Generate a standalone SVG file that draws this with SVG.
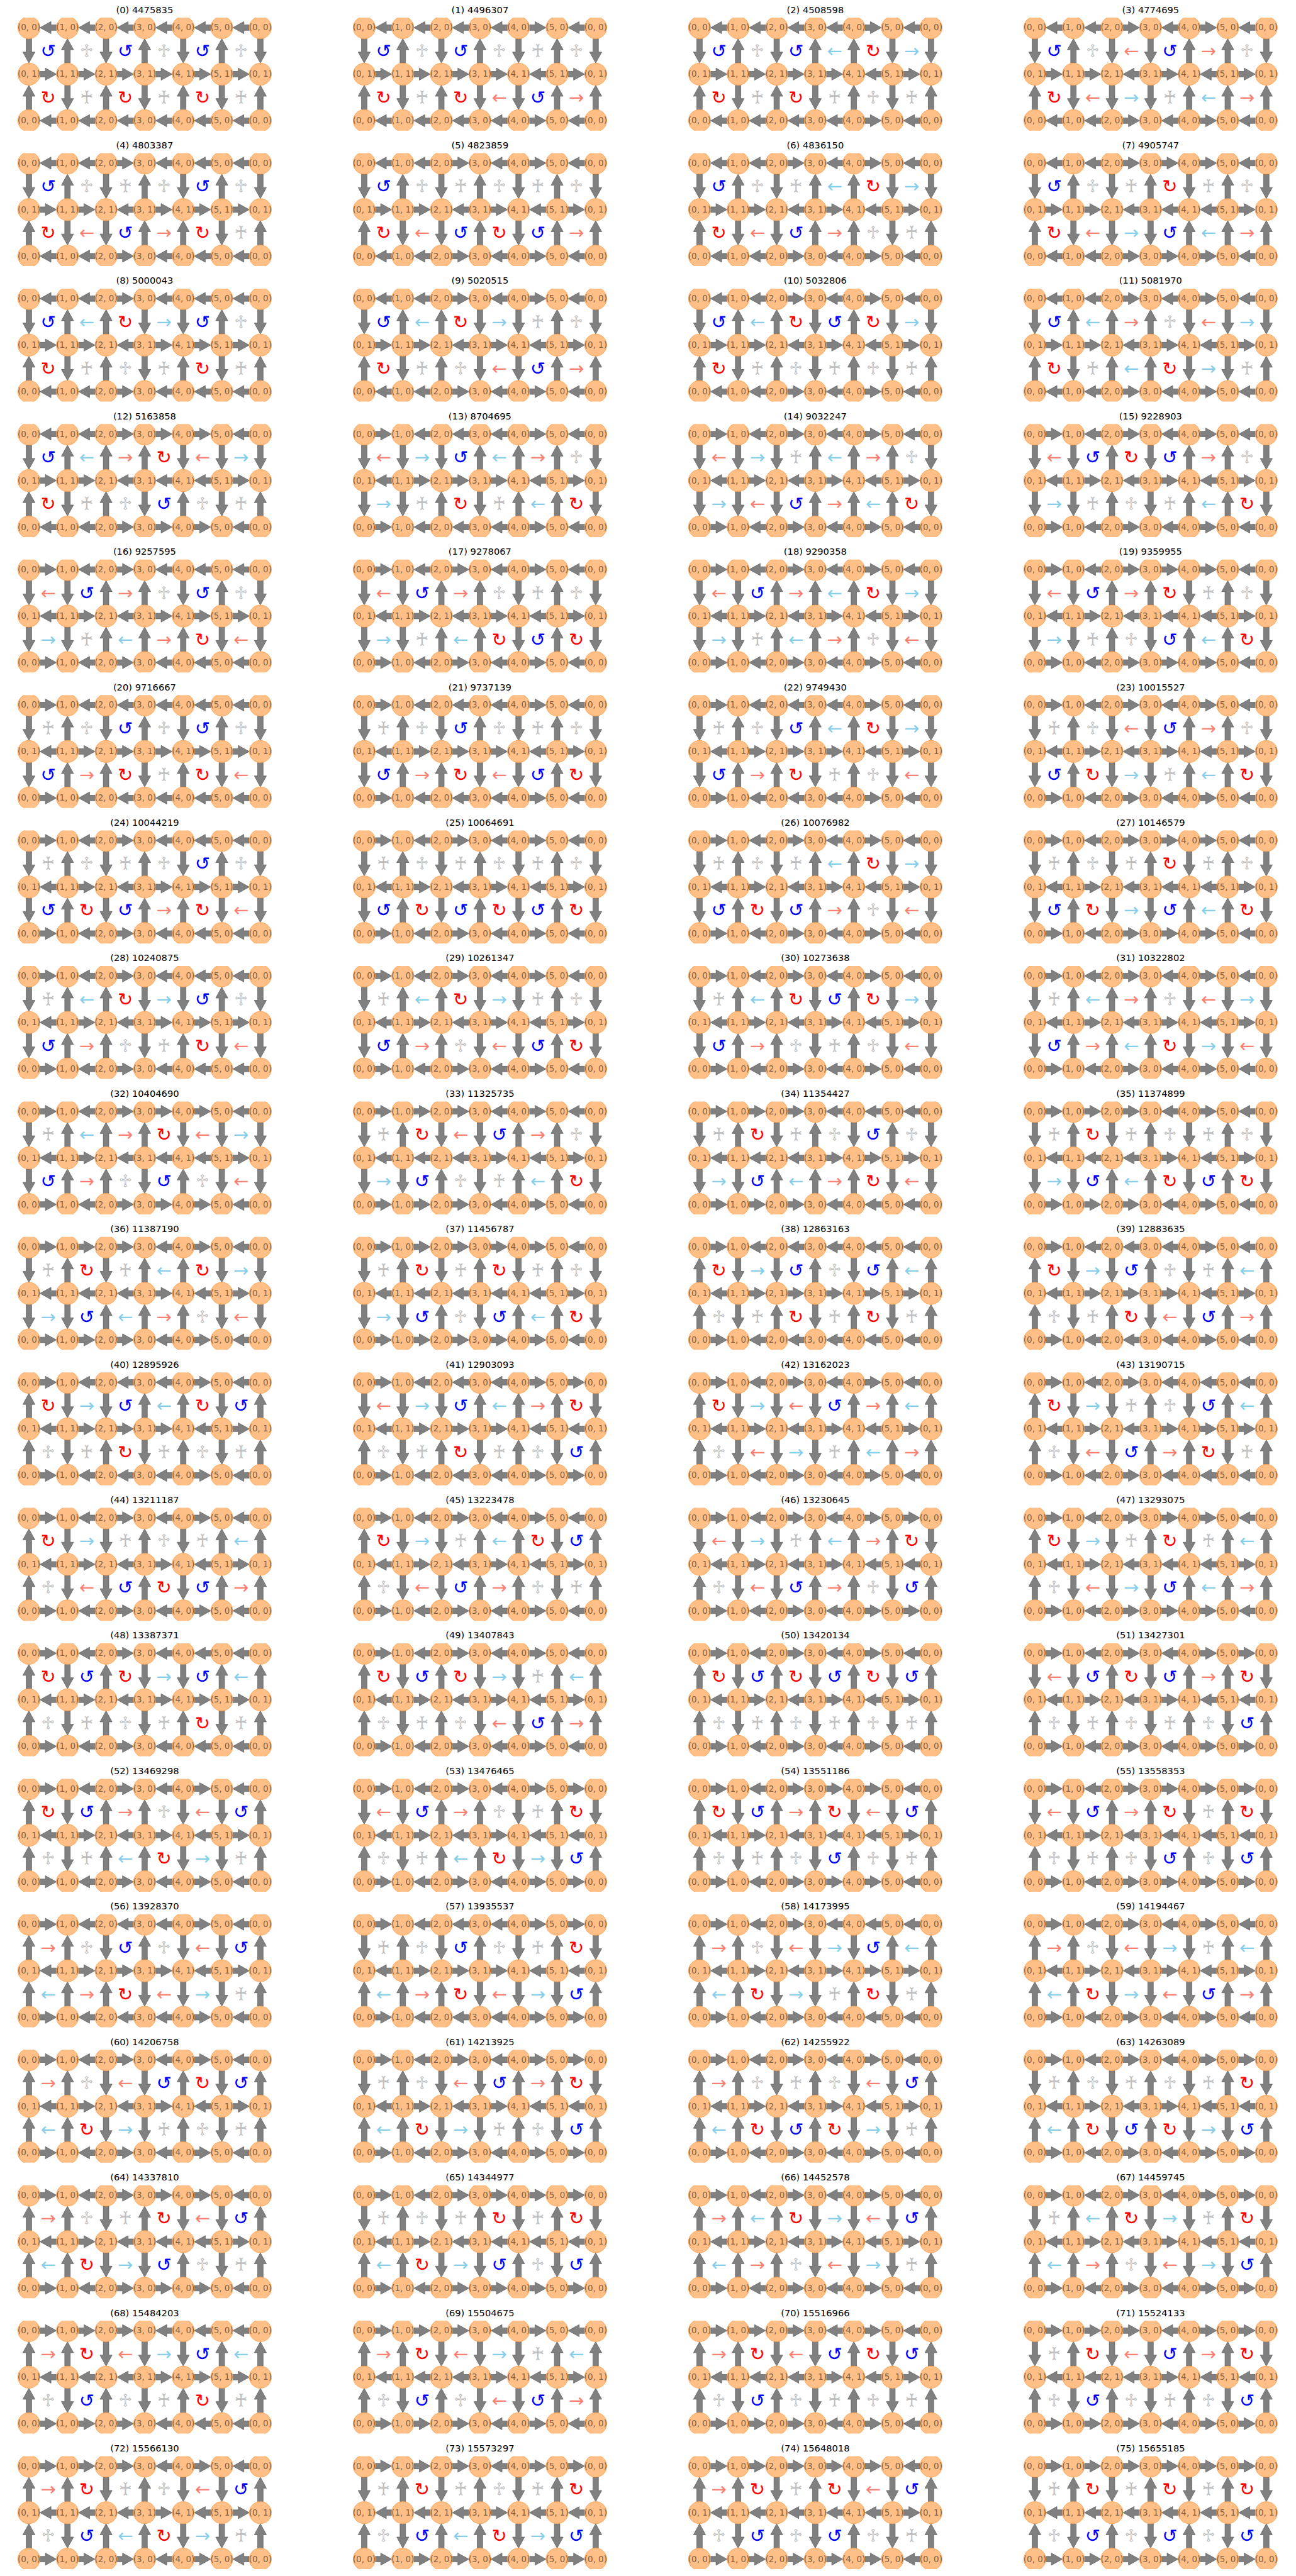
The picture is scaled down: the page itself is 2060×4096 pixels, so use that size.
<svg xmlns="http://www.w3.org/2000/svg" width="2060" height="4096" viewBox="0 0 2060 4096">
<style>
.t{font:16.7px "DejaVu Sans",sans-serif;text-anchor:middle;fill:#000}
.nd circle{fill:#ffbf86;stroke:#ff9f4a;stroke-width:1}
.nd text{font:15.3px "DejaVu Sans",sans-serif;fill:#805f43;text-anchor:middle;dominant-baseline:central}
.ar{fill:#808080;stroke:#5a5a5a;stroke-width:0.8}
.s{font:33px "DejaVu Sans",sans-serif;text-anchor:middle;dominant-baseline:central}
.A{fill:#0000ff}.C{fill:#ff0000}.O,.P{fill:#c0c0c0}.B{fill:#87ceeb}.S{fill:#fa8072}
</style>
<defs>
<clipPath id="c"><rect x="-40" y="-18" width="500" height="204.4"/></clipPath>
<path id="l" class="ar" d="M20,0L40,-11V-5H49.8V5H40V11Z"/>
<path id="r" class="ar" d="M49.8,0L29.8,-11V-5H20V5H29.8V11Z"/>
<path id="d" class="ar" d="M0,64.2L-11,44.2H-5V20H5V44.2H11Z"/>
<path id="u" class="ar" d="M0,20L-11,40H-5V64.2H5V40H11Z"/>
<use id="L0" href="#l"/><use id="L1" href="#l" x="69.8"/><use id="L2" href="#l" x="139.6"/><use id="L3" href="#l" x="209.4"/><use id="L4" href="#l" x="279.2"/><use id="L5" href="#l" x="349"/>
<use id="R0" href="#r"/><use id="R1" href="#r" x="69.8"/><use id="R2" href="#r" x="139.6"/><use id="R3" href="#r" x="209.4"/><use id="R4" href="#r" x="279.2"/><use id="R5" href="#r" x="349"/>
<use id="D0" href="#d"/><use id="D1" href="#d" x="69.8"/><use id="D2" href="#d" x="139.6"/><use id="D3" href="#d" x="209.4"/><use id="D4" href="#d" x="279.2"/><use id="D5" href="#d" x="349"/><use id="D6" href="#d" x="418.8"/>
<use id="U0" href="#u"/><use id="U1" href="#u" x="69.8"/><use id="U2" href="#u" x="139.6"/><use id="U3" href="#u" x="209.4"/><use id="U4" href="#u" x="279.2"/><use id="U5" href="#u" x="349"/><use id="U6" href="#u" x="418.8"/>
<g id="hLLLLLL"><use href="#L0"/><use href="#L1"/><use href="#L2"/><use href="#L3"/><use href="#L4"/><use href="#L5"/></g>
<g id="hLLLLRL"><use href="#L0"/><use href="#L1"/><use href="#L2"/><use href="#L3"/><use href="#R4"/><use href="#L5"/></g>
<g id="hLLRLRL"><use href="#L0"/><use href="#L1"/><use href="#R2"/><use href="#L3"/><use href="#R4"/><use href="#L5"/></g>
<g id="hLLRLLL"><use href="#L0"/><use href="#L1"/><use href="#R2"/><use href="#L3"/><use href="#L4"/><use href="#L5"/></g>
<g id="hLLRRRL"><use href="#L0"/><use href="#L1"/><use href="#R2"/><use href="#R3"/><use href="#R4"/><use href="#L5"/></g>
<g id="hRLLLRL"><use href="#R0"/><use href="#L1"/><use href="#L2"/><use href="#L3"/><use href="#R4"/><use href="#L5"/></g>
<g id="hRLRLRL"><use href="#R0"/><use href="#L1"/><use href="#R2"/><use href="#L3"/><use href="#R4"/><use href="#L5"/></g>
<g id="hRLRLLL"><use href="#R0"/><use href="#L1"/><use href="#R2"/><use href="#L3"/><use href="#L4"/><use href="#L5"/></g>
<g id="hRLRRRL"><use href="#R0"/><use href="#L1"/><use href="#R2"/><use href="#R3"/><use href="#R4"/><use href="#L5"/></g>
<g id="hRLLLLL"><use href="#R0"/><use href="#L1"/><use href="#L2"/><use href="#L3"/><use href="#L4"/><use href="#L5"/></g>
<g id="hRRRLRL"><use href="#R0"/><use href="#R1"/><use href="#R2"/><use href="#L3"/><use href="#R4"/><use href="#L5"/></g>
<g id="hRRRLLL"><use href="#R0"/><use href="#R1"/><use href="#R2"/><use href="#L3"/><use href="#L4"/><use href="#L5"/></g>
<g id="hRRRRRL"><use href="#R0"/><use href="#R1"/><use href="#R2"/><use href="#R3"/><use href="#R4"/><use href="#L5"/></g>
<g id="hRLLLRR"><use href="#R0"/><use href="#L1"/><use href="#L2"/><use href="#L3"/><use href="#R4"/><use href="#R5"/></g>
<g id="hRLRLRR"><use href="#R0"/><use href="#L1"/><use href="#R2"/><use href="#L3"/><use href="#R4"/><use href="#R5"/></g>
<g id="hRLRRRR"><use href="#R0"/><use href="#L1"/><use href="#R2"/><use href="#R3"/><use href="#R4"/><use href="#R5"/></g>
<g id="hRRRLRR"><use href="#R0"/><use href="#R1"/><use href="#R2"/><use href="#L3"/><use href="#R4"/><use href="#R5"/></g>
<g id="hRRRRRR"><use href="#R0"/><use href="#R1"/><use href="#R2"/><use href="#R3"/><use href="#R4"/><use href="#R5"/></g>
<g id="hRRRRLR"><use href="#R0"/><use href="#R1"/><use href="#R2"/><use href="#R3"/><use href="#L4"/><use href="#R5"/></g>
<g id="hRRLRLR"><use href="#R0"/><use href="#R1"/><use href="#L2"/><use href="#R3"/><use href="#L4"/><use href="#R5"/></g>
<g id="hRRLRRR"><use href="#R0"/><use href="#R1"/><use href="#L2"/><use href="#R3"/><use href="#R4"/><use href="#R5"/></g>
<g id="hRRLLLR"><use href="#R0"/><use href="#R1"/><use href="#L2"/><use href="#L3"/><use href="#L4"/><use href="#R5"/></g>
<g id="hLRRRLR"><use href="#L0"/><use href="#R1"/><use href="#R2"/><use href="#R3"/><use href="#L4"/><use href="#R5"/></g>
<g id="hLRLRLR"><use href="#L0"/><use href="#R1"/><use href="#L2"/><use href="#R3"/><use href="#L4"/><use href="#R5"/></g>
<g id="hLRLRRR"><use href="#L0"/><use href="#R1"/><use href="#L2"/><use href="#R3"/><use href="#R4"/><use href="#R5"/></g>
<g id="hLRLLLR"><use href="#L0"/><use href="#R1"/><use href="#L2"/><use href="#L3"/><use href="#L4"/><use href="#R5"/></g>
<g id="hLRRRRR"><use href="#L0"/><use href="#R1"/><use href="#R2"/><use href="#R3"/><use href="#R4"/><use href="#R5"/></g>
<g id="hLLLRLR"><use href="#L0"/><use href="#L1"/><use href="#L2"/><use href="#R3"/><use href="#L4"/><use href="#R5"/></g>
<g id="hLLLRRR"><use href="#L0"/><use href="#L1"/><use href="#L2"/><use href="#R3"/><use href="#R4"/><use href="#R5"/></g>
<g id="hLLLLLR"><use href="#L0"/><use href="#L1"/><use href="#L2"/><use href="#L3"/><use href="#L4"/><use href="#R5"/></g>
<g id="hLRRRLL"><use href="#L0"/><use href="#R1"/><use href="#R2"/><use href="#R3"/><use href="#L4"/><use href="#L5"/></g>
<g id="hLRLRLL"><use href="#L0"/><use href="#R1"/><use href="#L2"/><use href="#R3"/><use href="#L4"/><use href="#L5"/></g>
<g id="hLRLLLL"><use href="#L0"/><use href="#R1"/><use href="#L2"/><use href="#L3"/><use href="#L4"/><use href="#L5"/></g>
<g id="hLLLRLL"><use href="#L0"/><use href="#L1"/><use href="#L2"/><use href="#R3"/><use href="#L4"/><use href="#L5"/></g>
<g id="vDUDUDU"><use href="#D0"/><use href="#U1"/><use href="#D2"/><use href="#U3"/><use href="#D4"/><use href="#U5"/><use href="#D6"/></g>
<g id="vDUDUUD"><use href="#D0"/><use href="#U1"/><use href="#D2"/><use href="#U3"/><use href="#U4"/><use href="#D5"/><use href="#D6"/></g>
<g id="vDUDDUU"><use href="#D0"/><use href="#U1"/><use href="#D2"/><use href="#D3"/><use href="#U4"/><use href="#U5"/><use href="#D6"/></g>
<g id="vDUUDDU"><use href="#D0"/><use href="#U1"/><use href="#U2"/><use href="#D3"/><use href="#D4"/><use href="#U5"/><use href="#D6"/></g>
<g id="vDUUDUD"><use href="#D0"/><use href="#U1"/><use href="#U2"/><use href="#D3"/><use href="#U4"/><use href="#D5"/><use href="#D6"/></g>
<g id="vDUUUDD"><use href="#D0"/><use href="#U1"/><use href="#U2"/><use href="#U3"/><use href="#D4"/><use href="#D5"/><use href="#D6"/></g>
<g id="vDDDUUU"><use href="#D0"/><use href="#D1"/><use href="#D2"/><use href="#U3"/><use href="#U4"/><use href="#U5"/><use href="#D6"/></g>
<g id="vDDUDUU"><use href="#D0"/><use href="#D1"/><use href="#U2"/><use href="#D3"/><use href="#U4"/><use href="#U5"/><use href="#D6"/></g>
<g id="vDDUUDU"><use href="#D0"/><use href="#D1"/><use href="#U2"/><use href="#U3"/><use href="#D4"/><use href="#U5"/><use href="#D6"/></g>
<g id="vDDUUUD"><use href="#D0"/><use href="#D1"/><use href="#U2"/><use href="#U3"/><use href="#U4"/><use href="#D5"/><use href="#D6"/></g>
<g id="vUDDUDU"><use href="#U0"/><use href="#D1"/><use href="#D2"/><use href="#U3"/><use href="#D4"/><use href="#U5"/><use href="#U6"/></g>
<g id="vUDDUUD"><use href="#U0"/><use href="#D1"/><use href="#D2"/><use href="#U3"/><use href="#U4"/><use href="#D5"/><use href="#U6"/></g>
<g id="vUDDDUU"><use href="#U0"/><use href="#D1"/><use href="#D2"/><use href="#D3"/><use href="#U4"/><use href="#U5"/><use href="#U6"/></g>
<g id="vUDUDDU"><use href="#U0"/><use href="#D1"/><use href="#U2"/><use href="#D3"/><use href="#D4"/><use href="#U5"/><use href="#U6"/></g>
<g id="vUDUDUD"><use href="#U0"/><use href="#D1"/><use href="#U2"/><use href="#D3"/><use href="#U4"/><use href="#D5"/><use href="#U6"/></g>
<g id="vUDUUDD"><use href="#U0"/><use href="#D1"/><use href="#U2"/><use href="#U3"/><use href="#D4"/><use href="#D5"/><use href="#U6"/></g>
<g id="vUUDUDD"><use href="#U0"/><use href="#U1"/><use href="#D2"/><use href="#U3"/><use href="#D4"/><use href="#D5"/><use href="#U6"/></g>
<g id="vUUDDDU"><use href="#U0"/><use href="#U1"/><use href="#D2"/><use href="#D3"/><use href="#D4"/><use href="#U5"/><use href="#U6"/></g>
<g id="vUUDDUD"><use href="#U0"/><use href="#U1"/><use href="#D2"/><use href="#D3"/><use href="#U4"/><use href="#D5"/><use href="#U6"/></g>
<g id="vUUUDDD"><use href="#U0"/><use href="#U1"/><use href="#U2"/><use href="#D3"/><use href="#D4"/><use href="#D5"/><use href="#U6"/></g>
<g id="r0" class="nd"><g id="n0"><circle r="20"/><text>(0, 0)</text></g><g id="n1"><circle cx="69.8" r="20"/><text x="69.8">(1, 0)</text></g><g id="n2"><circle cx="139.6" r="20"/><text x="139.6">(2, 0)</text></g><g id="n3"><circle cx="209.4" r="20"/><text x="209.4">(3, 0)</text></g><g id="n4"><circle cx="279.2" r="20"/><text x="279.2">(4, 0)</text></g><g id="n5"><circle cx="349" r="20"/><text x="349">(5, 0)</text></g><g id="n6"><circle cx="418.8" r="20"/><text x="418.8">(0, 0)</text></g></g>
<g id="r1" class="nd"><g id="m0"><circle r="20"/><text>(0, 1)</text></g><g id="m1"><circle cx="69.8" r="20"/><text x="69.8">(1, 1)</text></g><g id="m2"><circle cx="139.6" r="20"/><text x="139.6">(2, 1)</text></g><g id="m3"><circle cx="209.4" r="20"/><text x="209.4">(3, 1)</text></g><g id="m4"><circle cx="279.2" r="20"/><text x="279.2">(4, 1)</text></g><g id="m5"><circle cx="349" r="20"/><text x="349">(5, 1)</text></g><g id="m6"><circle cx="418.8" r="20"/><text x="418.8">(0, 1)</text></g></g>
<g id="N"><use href="#r0"/><use href="#r1" y="84.2"/><use href="#r0" y="168.4"/></g>
<text id="A0" class="s A" x="34.9" y="42.1">↺</text><text id="A1" class="s A" x="104.7" y="42.1">↺</text><text id="A2" class="s A" x="174.5" y="42.1">↺</text><text id="A3" class="s A" x="244.3" y="42.1">↺</text><text id="A4" class="s A" x="314.1" y="42.1">↺</text><text id="A5" class="s A" x="383.9" y="42.1">↺</text>
<text id="C0" class="s C" x="34.9" y="42.1">↻</text><text id="C1" class="s C" x="104.7" y="42.1">↻</text><text id="C2" class="s C" x="174.5" y="42.1">↻</text><text id="C3" class="s C" x="244.3" y="42.1">↻</text><text id="C4" class="s C" x="314.1" y="42.1">↻</text><text id="C5" class="s C" x="383.9" y="42.1">↻</text>
<text id="O0" class="s O" x="34.9" y="42.1">♱</text><text id="O1" class="s O" x="104.7" y="42.1">♱</text><text id="O2" class="s O" x="174.5" y="42.1">♱</text><text id="O3" class="s O" x="244.3" y="42.1">♱</text><text id="O4" class="s O" x="314.1" y="42.1">♱</text><text id="O5" class="s O" x="383.9" y="42.1">♱</text>
<text id="P0" class="s P" x="34.9" y="42.1">♰</text><text id="P1" class="s P" x="104.7" y="42.1">♰</text><text id="P2" class="s P" x="174.5" y="42.1">♰</text><text id="P3" class="s P" x="244.3" y="42.1">♰</text><text id="P4" class="s P" x="314.1" y="42.1">♰</text><text id="P5" class="s P" x="383.9" y="42.1">♰</text>
<text id="bl0" class="s B" x="34.9" y="42.1">←</text><text id="bl1" class="s B" x="104.7" y="42.1">←</text><text id="bl2" class="s B" x="174.5" y="42.1">←</text><text id="bl3" class="s B" x="244.3" y="42.1">←</text><text id="bl4" class="s B" x="314.1" y="42.1">←</text><text id="bl5" class="s B" x="383.9" y="42.1">←</text>
<text id="br0" class="s B" x="34.9" y="42.1">→</text><text id="br1" class="s B" x="104.7" y="42.1">→</text><text id="br2" class="s B" x="174.5" y="42.1">→</text><text id="br3" class="s B" x="244.3" y="42.1">→</text><text id="br4" class="s B" x="314.1" y="42.1">→</text><text id="br5" class="s B" x="383.9" y="42.1">→</text>
<text id="sl0" class="s S" x="34.9" y="42.1">←</text><text id="sl1" class="s S" x="104.7" y="42.1">←</text><text id="sl2" class="s S" x="174.5" y="42.1">←</text><text id="sl3" class="s S" x="244.3" y="42.1">←</text><text id="sl4" class="s S" x="314.1" y="42.1">←</text><text id="sl5" class="s S" x="383.9" y="42.1">←</text>
<text id="sr0" class="s S" x="34.9" y="42.1">→</text><text id="sr1" class="s S" x="104.7" y="42.1">→</text><text id="sr2" class="s S" x="174.5" y="42.1">→</text><text id="sr3" class="s S" x="244.3" y="42.1">→</text><text id="sr4" class="s S" x="314.1" y="42.1">→</text><text id="sr5" class="s S" x="383.9" y="42.1">→</text>
</defs>
<rect width="2060" height="4096" fill="#fff"/>
<g transform="scale(0.8785)">
<g id="p0" transform="translate(52.3,50)"><g clip-path="url(#c)"><g><use href="#hLLLLLL"/><use href="#hRRRRRR" y="84.2"/><use href="#hLLLLLL" y="168.4"/><use href="#vDUDUDU"/><use href="#vUDUDUD" y="84.2"/></g><use href="#N"/></g><use href="#A0"/><use href="#O1"/><use href="#A2"/><use href="#O3"/><use href="#A4"/><use href="#O5"/><g transform="translate(0,84.2)"><use href="#C0"/><use href="#P1"/><use href="#C2"/><use href="#P3"/><use href="#C4"/><use href="#P5"/></g><text class="t" x="209.4" y="-26.6">(0) 4475835</text></g>
<g id="p1" transform="translate(659,50)"><g clip-path="url(#c)"><g><use href="#hLLLLRL"/><use href="#hRRRRLR" y="84.2"/><use href="#hLLLLRL" y="168.4"/><use href="#vDUDUDU"/><use href="#vUDUDDU" y="84.2"/></g><use href="#N"/></g><use href="#A0"/><use href="#O1"/><use href="#A2"/><use href="#O3"/><use href="#P4"/><use href="#O5"/><g transform="translate(0,84.2)"><use href="#C0"/><use href="#P1"/><use href="#C2"/><use href="#sl3"/><use href="#A4"/><use href="#sr5"/></g><text class="t" x="209.4" y="-26.6">(1) 4496307</text></g>
<g id="p2" transform="translate(1265.7,50)"><g clip-path="url(#c)"><g><use href="#hLLLLRL"/><use href="#hRRRRLR" y="84.2"/><use href="#hLLLLRL" y="168.4"/><use href="#vDUDUUD"/><use href="#vUDUDUD" y="84.2"/></g><use href="#N"/></g><use href="#A0"/><use href="#O1"/><use href="#A2"/><use href="#bl3"/><use href="#C4"/><use href="#br5"/><g transform="translate(0,84.2)"><use href="#C0"/><use href="#P1"/><use href="#C2"/><use href="#P3"/><use href="#O4"/><use href="#P5"/></g><text class="t" x="209.4" y="-26.6">(2) 4508598</text></g>
<g id="p3" transform="translate(1872.4,50)"><g clip-path="url(#c)"><g><use href="#hLLRLRL"/><use href="#hRRLRLR" y="84.2"/><use href="#hLLRLRL" y="168.4"/><use href="#vDUDDUU"/><use href="#vUDDDUU" y="84.2"/></g><use href="#N"/></g><use href="#A0"/><use href="#O1"/><use href="#sl2"/><use href="#A3"/><use href="#sr4"/><use href="#O5"/><g transform="translate(0,84.2)"><use href="#C0"/><use href="#sl1"/><use href="#br2"/><use href="#P3"/><use href="#bl4"/><use href="#sr5"/></g><text class="t" x="209.4" y="-26.6">(3) 4774695</text></g>
<g id="p4" transform="translate(52.3,295.2)"><g clip-path="url(#c)"><g><use href="#hLLRLLL"/><use href="#hRRLRRR" y="84.2"/><use href="#hLLRLLL" y="168.4"/><use href="#vDUDUDU"/><use href="#vUDDUUD" y="84.2"/></g><use href="#N"/></g><use href="#A0"/><use href="#O1"/><use href="#P2"/><use href="#O3"/><use href="#A4"/><use href="#O5"/><g transform="translate(0,84.2)"><use href="#C0"/><use href="#sl1"/><use href="#A2"/><use href="#sr3"/><use href="#C4"/><use href="#P5"/></g><text class="t" x="209.4" y="-26.6">(4) 4803387</text></g>
<g id="p5" transform="translate(659,295.2)"><g clip-path="url(#c)"><g><use href="#hLLRLRL"/><use href="#hRRLRLR" y="84.2"/><use href="#hLLRLRL" y="168.4"/><use href="#vDUDUDU"/><use href="#vUDDUDU" y="84.2"/></g><use href="#N"/></g><use href="#A0"/><use href="#O1"/><use href="#P2"/><use href="#O3"/><use href="#P4"/><use href="#O5"/><g transform="translate(0,84.2)"><use href="#C0"/><use href="#sl1"/><use href="#A2"/><use href="#C3"/><use href="#A4"/><use href="#sr5"/></g><text class="t" x="209.4" y="-26.6">(5) 4823859</text></g>
<g id="p6" transform="translate(1265.7,295.2)"><g clip-path="url(#c)"><g><use href="#hLLRLRL"/><use href="#hRRLRLR" y="84.2"/><use href="#hLLRLRL" y="168.4"/><use href="#vDUDUUD"/><use href="#vUDDUUD" y="84.2"/></g><use href="#N"/></g><use href="#A0"/><use href="#O1"/><use href="#P2"/><use href="#bl3"/><use href="#C4"/><use href="#br5"/><g transform="translate(0,84.2)"><use href="#C0"/><use href="#sl1"/><use href="#A2"/><use href="#sr3"/><use href="#O4"/><use href="#P5"/></g><text class="t" x="209.4" y="-26.6">(6) 4836150</text></g>
<g id="p7" transform="translate(1872.4,295.2)"><g clip-path="url(#c)"><g><use href="#hLLRRRL"/><use href="#hRRLLLR" y="84.2"/><use href="#hLLRRRL" y="168.4"/><use href="#vDUDUDU"/><use href="#vUDDDUU" y="84.2"/></g><use href="#N"/></g><use href="#A0"/><use href="#O1"/><use href="#P2"/><use href="#C3"/><use href="#P4"/><use href="#O5"/><g transform="translate(0,84.2)"><use href="#C0"/><use href="#sl1"/><use href="#br2"/><use href="#A3"/><use href="#bl4"/><use href="#sr5"/></g><text class="t" x="209.4" y="-26.6">(7) 4905747</text></g>
<g id="p8" transform="translate(52.3,540.4)"><g clip-path="url(#c)"><g><use href="#hLLRLLL"/><use href="#hRRLRRR" y="84.2"/><use href="#hLLRLLL" y="168.4"/><use href="#vDUUDDU"/><use href="#vUDUDUD" y="84.2"/></g><use href="#N"/></g><use href="#A0"/><use href="#bl1"/><use href="#C2"/><use href="#br3"/><use href="#A4"/><use href="#O5"/><g transform="translate(0,84.2)"><use href="#C0"/><use href="#P1"/><use href="#O2"/><use href="#P3"/><use href="#C4"/><use href="#P5"/></g><text class="t" x="209.4" y="-26.6">(8) 5000043</text></g>
<g id="p9" transform="translate(659,540.4)"><g clip-path="url(#c)"><g><use href="#hLLRLRL"/><use href="#hRRLRLR" y="84.2"/><use href="#hLLRLRL" y="168.4"/><use href="#vDUUDDU"/><use href="#vUDUDDU" y="84.2"/></g><use href="#N"/></g><use href="#A0"/><use href="#bl1"/><use href="#C2"/><use href="#br3"/><use href="#P4"/><use href="#O5"/><g transform="translate(0,84.2)"><use href="#C0"/><use href="#P1"/><use href="#O2"/><use href="#sl3"/><use href="#A4"/><use href="#sr5"/></g><text class="t" x="209.4" y="-26.6">(9) 5020515</text></g>
<g id="p10" transform="translate(1265.7,540.4)"><g clip-path="url(#c)"><g><use href="#hLLRLRL"/><use href="#hRRLRLR" y="84.2"/><use href="#hLLRLRL" y="168.4"/><use href="#vDUUDUD"/><use href="#vUDUDUD" y="84.2"/></g><use href="#N"/></g><use href="#A0"/><use href="#bl1"/><use href="#C2"/><use href="#A3"/><use href="#C4"/><use href="#br5"/><g transform="translate(0,84.2)"><use href="#C0"/><use href="#P1"/><use href="#O2"/><use href="#P3"/><use href="#O4"/><use href="#P5"/></g><text class="t" x="209.4" y="-26.6">(10) 5032806</text></g>
<g id="p11" transform="translate(1872.4,540.4)"><g clip-path="url(#c)"><g><use href="#hLLRLRL"/><use href="#hRRLRLR" y="84.2"/><use href="#hLLRLRL" y="168.4"/><use href="#vDUUUDD"/><use href="#vUDUUDD" y="84.2"/></g><use href="#N"/></g><use href="#A0"/><use href="#bl1"/><use href="#sr2"/><use href="#O3"/><use href="#sl4"/><use href="#br5"/><g transform="translate(0,84.2)"><use href="#C0"/><use href="#P1"/><use href="#bl2"/><use href="#C3"/><use href="#br4"/><use href="#P5"/></g><text class="t" x="209.4" y="-26.6">(11) 5081970</text></g>
<g id="p12" transform="translate(52.3,785.6)"><g clip-path="url(#c)"><g><use href="#hLLRRRL"/><use href="#hRRLLLR" y="84.2"/><use href="#hLLRRRL" y="168.4"/><use href="#vDUUUDD"/><use href="#vUDUDUD" y="84.2"/></g><use href="#N"/></g><use href="#A0"/><use href="#bl1"/><use href="#sr2"/><use href="#C3"/><use href="#sl4"/><use href="#br5"/><g transform="translate(0,84.2)"><use href="#C0"/><use href="#P1"/><use href="#O2"/><use href="#A3"/><use href="#O4"/><use href="#P5"/></g><text class="t" x="209.4" y="-26.6">(12) 5163858</text></g>
<g id="p13" transform="translate(659,785.6)"><g clip-path="url(#c)"><g><use href="#hRLLLRL"/><use href="#hLRRRLR" y="84.2"/><use href="#hRLLLRL" y="168.4"/><use href="#vDDDUUU"/><use href="#vDDUDUU" y="84.2"/></g><use href="#N"/></g><use href="#sl0"/><use href="#br1"/><use href="#A2"/><use href="#bl3"/><use href="#sr4"/><use href="#O5"/><g transform="translate(0,84.2)"><use href="#br0"/><use href="#P1"/><use href="#C2"/><use href="#P3"/><use href="#bl4"/><use href="#C5"/></g><text class="t" x="209.4" y="-26.6">(13) 8704695</text></g>
<g id="p14" transform="translate(1265.7,785.6)"><g clip-path="url(#c)"><g><use href="#hRLRLRL"/><use href="#hLRLRLR" y="84.2"/><use href="#hRLRLRL" y="168.4"/><use href="#vDDDUUU"/><use href="#vDDDUUU" y="84.2"/></g><use href="#N"/></g><use href="#sl0"/><use href="#br1"/><use href="#P2"/><use href="#bl3"/><use href="#sr4"/><use href="#O5"/><g transform="translate(0,84.2)"><use href="#br0"/><use href="#sl1"/><use href="#A2"/><use href="#sr3"/><use href="#bl4"/><use href="#C5"/></g><text class="t" x="209.4" y="-26.6">(14) 9032247</text></g>
<g id="p15" transform="translate(1872.4,785.6)"><g clip-path="url(#c)"><g><use href="#hRLRLRL"/><use href="#hLRLRLR" y="84.2"/><use href="#hRLRLRL" y="168.4"/><use href="#vDDUDUU"/><use href="#vDDUDUU" y="84.2"/></g><use href="#N"/></g><use href="#sl0"/><use href="#A1"/><use href="#C2"/><use href="#A3"/><use href="#sr4"/><use href="#O5"/><g transform="translate(0,84.2)"><use href="#br0"/><use href="#P1"/><use href="#O2"/><use href="#P3"/><use href="#bl4"/><use href="#C5"/></g><text class="t" x="209.4" y="-26.6">(15) 9228903</text></g>
<g id="p16" transform="translate(52.3,1030.8)"><g clip-path="url(#c)"><g><use href="#hRLRLLL"/><use href="#hLRLRRR" y="84.2"/><use href="#hRLRLLL" y="168.4"/><use href="#vDDUUDU"/><use href="#vDDUUUD" y="84.2"/></g><use href="#N"/></g><use href="#sl0"/><use href="#A1"/><use href="#sr2"/><use href="#O3"/><use href="#A4"/><use href="#O5"/><g transform="translate(0,84.2)"><use href="#br0"/><use href="#P1"/><use href="#bl2"/><use href="#sr3"/><use href="#C4"/><use href="#sl5"/></g><text class="t" x="209.4" y="-26.6">(16) 9257595</text></g>
<g id="p17" transform="translate(659,1030.8)"><g clip-path="url(#c)"><g><use href="#hRLRLRL"/><use href="#hLRLRLR" y="84.2"/><use href="#hRLRLRL" y="168.4"/><use href="#vDDUUDU"/><use href="#vDDUUDU" y="84.2"/></g><use href="#N"/></g><use href="#sl0"/><use href="#A1"/><use href="#sr2"/><use href="#O3"/><use href="#P4"/><use href="#O5"/><g transform="translate(0,84.2)"><use href="#br0"/><use href="#P1"/><use href="#bl2"/><use href="#C3"/><use href="#A4"/><use href="#C5"/></g><text class="t" x="209.4" y="-26.6">(17) 9278067</text></g>
<g id="p18" transform="translate(1265.7,1030.8)"><g clip-path="url(#c)"><g><use href="#hRLRLRL"/><use href="#hLRLRLR" y="84.2"/><use href="#hRLRLRL" y="168.4"/><use href="#vDDUUUD"/><use href="#vDDUUUD" y="84.2"/></g><use href="#N"/></g><use href="#sl0"/><use href="#A1"/><use href="#sr2"/><use href="#bl3"/><use href="#C4"/><use href="#br5"/><g transform="translate(0,84.2)"><use href="#br0"/><use href="#P1"/><use href="#bl2"/><use href="#sr3"/><use href="#O4"/><use href="#sl5"/></g><text class="t" x="209.4" y="-26.6">(18) 9290358</text></g>
<g id="p19" transform="translate(1872.4,1030.8)"><g clip-path="url(#c)"><g><use href="#hRLRRRL"/><use href="#hLRLLLR" y="84.2"/><use href="#hRLRRRL" y="168.4"/><use href="#vDDUUDU"/><use href="#vDDUDUU" y="84.2"/></g><use href="#N"/></g><use href="#sl0"/><use href="#A1"/><use href="#sr2"/><use href="#C3"/><use href="#P4"/><use href="#O5"/><g transform="translate(0,84.2)"><use href="#br0"/><use href="#P1"/><use href="#O2"/><use href="#A3"/><use href="#bl4"/><use href="#C5"/></g><text class="t" x="209.4" y="-26.6">(19) 9359955</text></g>
<g id="p20" transform="translate(52.3,1276)"><g clip-path="url(#c)"><g><use href="#hRLLLLL"/><use href="#hLRRRRR" y="84.2"/><use href="#hRLLLLL" y="168.4"/><use href="#vDUDUDU"/><use href="#vDUUDUD" y="84.2"/></g><use href="#N"/></g><use href="#P0"/><use href="#O1"/><use href="#A2"/><use href="#O3"/><use href="#A4"/><use href="#O5"/><g transform="translate(0,84.2)"><use href="#A0"/><use href="#sr1"/><use href="#C2"/><use href="#P3"/><use href="#C4"/><use href="#sl5"/></g><text class="t" x="209.4" y="-26.6">(20) 9716667</text></g>
<g id="p21" transform="translate(659,1276)"><g clip-path="url(#c)"><g><use href="#hRLLLRL"/><use href="#hLRRRLR" y="84.2"/><use href="#hRLLLRL" y="168.4"/><use href="#vDUDUDU"/><use href="#vDUUDDU" y="84.2"/></g><use href="#N"/></g><use href="#P0"/><use href="#O1"/><use href="#A2"/><use href="#O3"/><use href="#P4"/><use href="#O5"/><g transform="translate(0,84.2)"><use href="#A0"/><use href="#sr1"/><use href="#C2"/><use href="#sl3"/><use href="#A4"/><use href="#C5"/></g><text class="t" x="209.4" y="-26.6">(21) 9737139</text></g>
<g id="p22" transform="translate(1265.7,1276)"><g clip-path="url(#c)"><g><use href="#hRLLLRL"/><use href="#hLRRRLR" y="84.2"/><use href="#hRLLLRL" y="168.4"/><use href="#vDUDUUD"/><use href="#vDUUDUD" y="84.2"/></g><use href="#N"/></g><use href="#P0"/><use href="#O1"/><use href="#A2"/><use href="#bl3"/><use href="#C4"/><use href="#br5"/><g transform="translate(0,84.2)"><use href="#A0"/><use href="#sr1"/><use href="#C2"/><use href="#P3"/><use href="#O4"/><use href="#sl5"/></g><text class="t" x="209.4" y="-26.6">(22) 9749430</text></g>
<g id="p23" transform="translate(1872.4,1276)"><g clip-path="url(#c)"><g><use href="#hRLRLRL"/><use href="#hLRLRLR" y="84.2"/><use href="#hRLRLRL" y="168.4"/><use href="#vDUDDUU"/><use href="#vDUDDUU" y="84.2"/></g><use href="#N"/></g><use href="#P0"/><use href="#O1"/><use href="#sl2"/><use href="#A3"/><use href="#sr4"/><use href="#O5"/><g transform="translate(0,84.2)"><use href="#A0"/><use href="#C1"/><use href="#br2"/><use href="#P3"/><use href="#bl4"/><use href="#C5"/></g><text class="t" x="209.4" y="-26.6">(23) 10015527</text></g>
<g id="p24" transform="translate(52.3,1521.2)"><g clip-path="url(#c)"><g><use href="#hRLRLLL"/><use href="#hLRLRRR" y="84.2"/><use href="#hRLRLLL" y="168.4"/><use href="#vDUDUDU"/><use href="#vDUDUUD" y="84.2"/></g><use href="#N"/></g><use href="#P0"/><use href="#O1"/><use href="#P2"/><use href="#O3"/><use href="#A4"/><use href="#O5"/><g transform="translate(0,84.2)"><use href="#A0"/><use href="#C1"/><use href="#A2"/><use href="#sr3"/><use href="#C4"/><use href="#sl5"/></g><text class="t" x="209.4" y="-26.6">(24) 10044219</text></g>
<g id="p25" transform="translate(659,1521.2)"><g clip-path="url(#c)"><g><use href="#hRLRLRL"/><use href="#hLRLRLR" y="84.2"/><use href="#hRLRLRL" y="168.4"/><use href="#vDUDUDU"/><use href="#vDUDUDU" y="84.2"/></g><use href="#N"/></g><use href="#P0"/><use href="#O1"/><use href="#P2"/><use href="#O3"/><use href="#P4"/><use href="#O5"/><g transform="translate(0,84.2)"><use href="#A0"/><use href="#C1"/><use href="#A2"/><use href="#C3"/><use href="#A4"/><use href="#C5"/></g><text class="t" x="209.4" y="-26.6">(25) 10064691</text></g>
<g id="p26" transform="translate(1265.7,1521.2)"><g clip-path="url(#c)"><g><use href="#hRLRLRL"/><use href="#hLRLRLR" y="84.2"/><use href="#hRLRLRL" y="168.4"/><use href="#vDUDUUD"/><use href="#vDUDUUD" y="84.2"/></g><use href="#N"/></g><use href="#P0"/><use href="#O1"/><use href="#P2"/><use href="#bl3"/><use href="#C4"/><use href="#br5"/><g transform="translate(0,84.2)"><use href="#A0"/><use href="#C1"/><use href="#A2"/><use href="#sr3"/><use href="#O4"/><use href="#sl5"/></g><text class="t" x="209.4" y="-26.6">(26) 10076982</text></g>
<g id="p27" transform="translate(1872.4,1521.2)"><g clip-path="url(#c)"><g><use href="#hRLRRRL"/><use href="#hLRLLLR" y="84.2"/><use href="#hRLRRRL" y="168.4"/><use href="#vDUDUDU"/><use href="#vDUDDUU" y="84.2"/></g><use href="#N"/></g><use href="#P0"/><use href="#O1"/><use href="#P2"/><use href="#C3"/><use href="#P4"/><use href="#O5"/><g transform="translate(0,84.2)"><use href="#A0"/><use href="#C1"/><use href="#br2"/><use href="#A3"/><use href="#bl4"/><use href="#C5"/></g><text class="t" x="209.4" y="-26.6">(27) 10146579</text></g>
<g id="p28" transform="translate(52.3,1766.4)"><g clip-path="url(#c)"><g><use href="#hRLRLLL"/><use href="#hLRLRRR" y="84.2"/><use href="#hRLRLLL" y="168.4"/><use href="#vDUUDDU"/><use href="#vDUUDUD" y="84.2"/></g><use href="#N"/></g><use href="#P0"/><use href="#bl1"/><use href="#C2"/><use href="#br3"/><use href="#A4"/><use href="#O5"/><g transform="translate(0,84.2)"><use href="#A0"/><use href="#sr1"/><use href="#O2"/><use href="#P3"/><use href="#C4"/><use href="#sl5"/></g><text class="t" x="209.4" y="-26.6">(28) 10240875</text></g>
<g id="p29" transform="translate(659,1766.4)"><g clip-path="url(#c)"><g><use href="#hRLRLRL"/><use href="#hLRLRLR" y="84.2"/><use href="#hRLRLRL" y="168.4"/><use href="#vDUUDDU"/><use href="#vDUUDDU" y="84.2"/></g><use href="#N"/></g><use href="#P0"/><use href="#bl1"/><use href="#C2"/><use href="#br3"/><use href="#P4"/><use href="#O5"/><g transform="translate(0,84.2)"><use href="#A0"/><use href="#sr1"/><use href="#O2"/><use href="#sl3"/><use href="#A4"/><use href="#C5"/></g><text class="t" x="209.4" y="-26.6">(29) 10261347</text></g>
<g id="p30" transform="translate(1265.7,1766.4)"><g clip-path="url(#c)"><g><use href="#hRLRLRL"/><use href="#hLRLRLR" y="84.2"/><use href="#hRLRLRL" y="168.4"/><use href="#vDUUDUD"/><use href="#vDUUDUD" y="84.2"/></g><use href="#N"/></g><use href="#P0"/><use href="#bl1"/><use href="#C2"/><use href="#A3"/><use href="#C4"/><use href="#br5"/><g transform="translate(0,84.2)"><use href="#A0"/><use href="#sr1"/><use href="#O2"/><use href="#P3"/><use href="#O4"/><use href="#sl5"/></g><text class="t" x="209.4" y="-26.6">(30) 10273638</text></g>
<g id="p31" transform="translate(1872.4,1766.4)"><g clip-path="url(#c)"><g><use href="#hRLRLRL"/><use href="#hLRLRLR" y="84.2"/><use href="#hRLRLRL" y="168.4"/><use href="#vDUUUDD"/><use href="#vDUUUDD" y="84.2"/></g><use href="#N"/></g><use href="#P0"/><use href="#bl1"/><use href="#sr2"/><use href="#O3"/><use href="#sl4"/><use href="#br5"/><g transform="translate(0,84.2)"><use href="#A0"/><use href="#sr1"/><use href="#bl2"/><use href="#C3"/><use href="#br4"/><use href="#sl5"/></g><text class="t" x="209.4" y="-26.6">(31) 10322802</text></g>
<g id="p32" transform="translate(52.3,2011.6)"><g clip-path="url(#c)"><g><use href="#hRLRRRL"/><use href="#hLRLLLR" y="84.2"/><use href="#hRLRRRL" y="168.4"/><use href="#vDUUUDD"/><use href="#vDUUDUD" y="84.2"/></g><use href="#N"/></g><use href="#P0"/><use href="#bl1"/><use href="#sr2"/><use href="#C3"/><use href="#sl4"/><use href="#br5"/><g transform="translate(0,84.2)"><use href="#A0"/><use href="#sr1"/><use href="#O2"/><use href="#A3"/><use href="#O4"/><use href="#sl5"/></g><text class="t" x="209.4" y="-26.6">(32) 10404690</text></g>
<g id="p33" transform="translate(659,2011.6)"><g clip-path="url(#c)"><g><use href="#hRRRLRL"/><use href="#hLLLRLR" y="84.2"/><use href="#hRRRLRL" y="168.4"/><use href="#vDUDDUU"/><use href="#vDDUDUU" y="84.2"/></g><use href="#N"/></g><use href="#P0"/><use href="#C1"/><use href="#sl2"/><use href="#A3"/><use href="#sr4"/><use href="#O5"/><g transform="translate(0,84.2)"><use href="#br0"/><use href="#A1"/><use href="#O2"/><use href="#P3"/><use href="#bl4"/><use href="#C5"/></g><text class="t" x="209.4" y="-26.6">(33) 11325735</text></g>
<g id="p34" transform="translate(1265.7,2011.6)"><g clip-path="url(#c)"><g><use href="#hRRRLLL"/><use href="#hLLLRRR" y="84.2"/><use href="#hRRRLLL" y="168.4"/><use href="#vDUDUDU"/><use href="#vDDUUUD" y="84.2"/></g><use href="#N"/></g><use href="#P0"/><use href="#C1"/><use href="#P2"/><use href="#O3"/><use href="#A4"/><use href="#O5"/><g transform="translate(0,84.2)"><use href="#br0"/><use href="#A1"/><use href="#bl2"/><use href="#sr3"/><use href="#C4"/><use href="#sl5"/></g><text class="t" x="209.4" y="-26.6">(34) 11354427</text></g>
<g id="p35" transform="translate(1872.4,2011.6)"><g clip-path="url(#c)"><g><use href="#hRRRLRL"/><use href="#hLLLRLR" y="84.2"/><use href="#hRRRLRL" y="168.4"/><use href="#vDUDUDU"/><use href="#vDDUUDU" y="84.2"/></g><use href="#N"/></g><use href="#P0"/><use href="#C1"/><use href="#P2"/><use href="#O3"/><use href="#P4"/><use href="#O5"/><g transform="translate(0,84.2)"><use href="#br0"/><use href="#A1"/><use href="#bl2"/><use href="#C3"/><use href="#A4"/><use href="#C5"/></g><text class="t" x="209.4" y="-26.6">(35) 11374899</text></g>
<g id="p36" transform="translate(52.3,2256.8)"><g clip-path="url(#c)"><g><use href="#hRRRLRL"/><use href="#hLLLRLR" y="84.2"/><use href="#hRRRLRL" y="168.4"/><use href="#vDUDUUD"/><use href="#vDDUUUD" y="84.2"/></g><use href="#N"/></g><use href="#P0"/><use href="#C1"/><use href="#P2"/><use href="#bl3"/><use href="#C4"/><use href="#br5"/><g transform="translate(0,84.2)"><use href="#br0"/><use href="#A1"/><use href="#bl2"/><use href="#sr3"/><use href="#O4"/><use href="#sl5"/></g><text class="t" x="209.4" y="-26.6">(36) 11387190</text></g>
<g id="p37" transform="translate(659,2256.8)"><g clip-path="url(#c)"><g><use href="#hRRRRRL"/><use href="#hLLLLLR" y="84.2"/><use href="#hRRRRRL" y="168.4"/><use href="#vDUDUDU"/><use href="#vDDUDUU" y="84.2"/></g><use href="#N"/></g><use href="#P0"/><use href="#C1"/><use href="#P2"/><use href="#C3"/><use href="#P4"/><use href="#O5"/><g transform="translate(0,84.2)"><use href="#br0"/><use href="#A1"/><use href="#O2"/><use href="#A3"/><use href="#bl4"/><use href="#C5"/></g><text class="t" x="209.4" y="-26.6">(37) 11456787</text></g>
<g id="p38" transform="translate(1265.7,2256.8)"><g clip-path="url(#c)"><g><use href="#hRLLLLL"/><use href="#hLRRRRR" y="84.2"/><use href="#hRLLLLL" y="168.4"/><use href="#vUDDUDU"/><use href="#vUDUDUD" y="84.2"/></g><use href="#N"/></g><use href="#C0"/><use href="#br1"/><use href="#A2"/><use href="#O3"/><use href="#A4"/><use href="#bl5"/><g transform="translate(0,84.2)"><use href="#O0"/><use href="#P1"/><use href="#C2"/><use href="#P3"/><use href="#C4"/><use href="#P5"/></g><text class="t" x="209.4" y="-26.6">(38) 12863163</text></g>
<g id="p39" transform="translate(1872.4,2256.8)"><g clip-path="url(#c)"><g><use href="#hRLLLRL"/><use href="#hLRRRLR" y="84.2"/><use href="#hRLLLRL" y="168.4"/><use href="#vUDDUDU"/><use href="#vUDUDDU" y="84.2"/></g><use href="#N"/></g><use href="#C0"/><use href="#br1"/><use href="#A2"/><use href="#O3"/><use href="#P4"/><use href="#bl5"/><g transform="translate(0,84.2)"><use href="#O0"/><use href="#P1"/><use href="#C2"/><use href="#sl3"/><use href="#A4"/><use href="#sr5"/></g><text class="t" x="209.4" y="-26.6">(39) 12883635</text></g>
<g id="p40" transform="translate(52.3,2502)"><g clip-path="url(#c)"><g><use href="#hRLLLRL"/><use href="#hLRRRLR" y="84.2"/><use href="#hRLLLRL" y="168.4"/><use href="#vUDDUUD"/><use href="#vUDUDUD" y="84.2"/></g><use href="#N"/></g><use href="#C0"/><use href="#br1"/><use href="#A2"/><use href="#bl3"/><use href="#C4"/><use href="#A5"/><g transform="translate(0,84.2)"><use href="#O0"/><use href="#P1"/><use href="#C2"/><use href="#P3"/><use href="#O4"/><use href="#P5"/></g><text class="t" x="209.4" y="-26.6">(40) 12895926</text></g>
<g id="p41" transform="translate(659,2502)"><g clip-path="url(#c)"><g><use href="#hRLLLRR"/><use href="#hLRRRLL" y="84.2"/><use href="#hRLLLRR" y="168.4"/><use href="#vDDDUUU"/><use href="#vUDUDUD" y="84.2"/></g><use href="#N"/></g><use href="#sl0"/><use href="#br1"/><use href="#A2"/><use href="#bl3"/><use href="#sr4"/><use href="#C5"/><g transform="translate(0,84.2)"><use href="#O0"/><use href="#P1"/><use href="#C2"/><use href="#P3"/><use href="#O4"/><use href="#A5"/></g><text class="t" x="209.4" y="-26.6">(41) 12903093</text></g>
<g id="p42" transform="translate(1265.7,2502)"><g clip-path="url(#c)"><g><use href="#hRLRLRL"/><use href="#hLRLRLR" y="84.2"/><use href="#hRLRLRL" y="168.4"/><use href="#vUDDDUU"/><use href="#vUDDDUU" y="84.2"/></g><use href="#N"/></g><use href="#C0"/><use href="#br1"/><use href="#sl2"/><use href="#A3"/><use href="#sr4"/><use href="#bl5"/><g transform="translate(0,84.2)"><use href="#O0"/><use href="#sl1"/><use href="#br2"/><use href="#P3"/><use href="#bl4"/><use href="#sr5"/></g><text class="t" x="209.4" y="-26.6">(42) 13162023</text></g>
<g id="p43" transform="translate(1872.4,2502)"><g clip-path="url(#c)"><g><use href="#hRLRLLL"/><use href="#hLRLRRR" y="84.2"/><use href="#hRLRLLL" y="168.4"/><use href="#vUDDUDU"/><use href="#vUDDUUD" y="84.2"/></g><use href="#N"/></g><use href="#C0"/><use href="#br1"/><use href="#P2"/><use href="#O3"/><use href="#A4"/><use href="#bl5"/><g transform="translate(0,84.2)"><use href="#O0"/><use href="#sl1"/><use href="#A2"/><use href="#sr3"/><use href="#C4"/><use href="#P5"/></g><text class="t" x="209.4" y="-26.6">(43) 13190715</text></g>
<g id="p44" transform="translate(52.3,2747.2)"><g clip-path="url(#c)"><g><use href="#hRLRLRL"/><use href="#hLRLRLR" y="84.2"/><use href="#hRLRLRL" y="168.4"/><use href="#vUDDUDU"/><use href="#vUDDUDU" y="84.2"/></g><use href="#N"/></g><use href="#C0"/><use href="#br1"/><use href="#P2"/><use href="#O3"/><use href="#P4"/><use href="#bl5"/><g transform="translate(0,84.2)"><use href="#O0"/><use href="#sl1"/><use href="#A2"/><use href="#C3"/><use href="#A4"/><use href="#sr5"/></g><text class="t" x="209.4" y="-26.6">(44) 13211187</text></g>
<g id="p45" transform="translate(659,2747.2)"><g clip-path="url(#c)"><g><use href="#hRLRLRL"/><use href="#hLRLRLR" y="84.2"/><use href="#hRLRLRL" y="168.4"/><use href="#vUDDUUD"/><use href="#vUDDUUD" y="84.2"/></g><use href="#N"/></g><use href="#C0"/><use href="#br1"/><use href="#P2"/><use href="#bl3"/><use href="#C4"/><use href="#A5"/><g transform="translate(0,84.2)"><use href="#O0"/><use href="#sl1"/><use href="#A2"/><use href="#sr3"/><use href="#O4"/><use href="#P5"/></g><text class="t" x="209.4" y="-26.6">(45) 13223478</text></g>
<g id="p46" transform="translate(1265.7,2747.2)"><g clip-path="url(#c)"><g><use href="#hRLRLRR"/><use href="#hLRLRLL" y="84.2"/><use href="#hRLRLRR" y="168.4"/><use href="#vDDDUUU"/><use href="#vUDDUUD" y="84.2"/></g><use href="#N"/></g><use href="#sl0"/><use href="#br1"/><use href="#P2"/><use href="#bl3"/><use href="#sr4"/><use href="#C5"/><g transform="translate(0,84.2)"><use href="#O0"/><use href="#sl1"/><use href="#A2"/><use href="#sr3"/><use href="#O4"/><use href="#A5"/></g><text class="t" x="209.4" y="-26.6">(46) 13230645</text></g>
<g id="p47" transform="translate(1872.4,2747.2)"><g clip-path="url(#c)"><g><use href="#hRLRRRL"/><use href="#hLRLLLR" y="84.2"/><use href="#hRLRRRL" y="168.4"/><use href="#vUDDUDU"/><use href="#vUDDDUU" y="84.2"/></g><use href="#N"/></g><use href="#C0"/><use href="#br1"/><use href="#P2"/><use href="#C3"/><use href="#P4"/><use href="#bl5"/><g transform="translate(0,84.2)"><use href="#O0"/><use href="#sl1"/><use href="#br2"/><use href="#A3"/><use href="#bl4"/><use href="#sr5"/></g><text class="t" x="209.4" y="-26.6">(47) 13293075</text></g>
<g id="p48" transform="translate(52.3,2992.4)"><g clip-path="url(#c)"><g><use href="#hRLRLLL"/><use href="#hLRLRRR" y="84.2"/><use href="#hRLRLLL" y="168.4"/><use href="#vUDUDDU"/><use href="#vUDUDUD" y="84.2"/></g><use href="#N"/></g><use href="#C0"/><use href="#A1"/><use href="#C2"/><use href="#br3"/><use href="#A4"/><use href="#bl5"/><g transform="translate(0,84.2)"><use href="#O0"/><use href="#P1"/><use href="#O2"/><use href="#P3"/><use href="#C4"/><use href="#P5"/></g><text class="t" x="209.4" y="-26.6">(48) 13387371</text></g>
<g id="p49" transform="translate(659,2992.4)"><g clip-path="url(#c)"><g><use href="#hRLRLRL"/><use href="#hLRLRLR" y="84.2"/><use href="#hRLRLRL" y="168.4"/><use href="#vUDUDDU"/><use href="#vUDUDDU" y="84.2"/></g><use href="#N"/></g><use href="#C0"/><use href="#A1"/><use href="#C2"/><use href="#br3"/><use href="#P4"/><use href="#bl5"/><g transform="translate(0,84.2)"><use href="#O0"/><use href="#P1"/><use href="#O2"/><use href="#sl3"/><use href="#A4"/><use href="#sr5"/></g><text class="t" x="209.4" y="-26.6">(49) 13407843</text></g>
<g id="p50" transform="translate(1265.7,2992.4)"><g clip-path="url(#c)"><g><use href="#hRLRLRL"/><use href="#hLRLRLR" y="84.2"/><use href="#hRLRLRL" y="168.4"/><use href="#vUDUDUD"/><use href="#vUDUDUD" y="84.2"/></g><use href="#N"/></g><use href="#C0"/><use href="#A1"/><use href="#C2"/><use href="#A3"/><use href="#C4"/><use href="#A5"/><g transform="translate(0,84.2)"><use href="#O0"/><use href="#P1"/><use href="#O2"/><use href="#P3"/><use href="#O4"/><use href="#P5"/></g><text class="t" x="209.4" y="-26.6">(50) 13420134</text></g>
<g id="p51" transform="translate(1872.4,2992.4)"><g clip-path="url(#c)"><g><use href="#hRLRLRR"/><use href="#hLRLRLL" y="84.2"/><use href="#hRLRLRR" y="168.4"/><use href="#vDDUDUU"/><use href="#vUDUDUD" y="84.2"/></g><use href="#N"/></g><use href="#sl0"/><use href="#A1"/><use href="#C2"/><use href="#A3"/><use href="#sr4"/><use href="#C5"/><g transform="translate(0,84.2)"><use href="#O0"/><use href="#P1"/><use href="#O2"/><use href="#P3"/><use href="#O4"/><use href="#A5"/></g><text class="t" x="209.4" y="-26.6">(51) 13427301</text></g>
<g id="p52" transform="translate(52.3,3237.6)"><g clip-path="url(#c)"><g><use href="#hRLRLRL"/><use href="#hLRLRLR" y="84.2"/><use href="#hRLRLRL" y="168.4"/><use href="#vUDUUDD"/><use href="#vUDUUDD" y="84.2"/></g><use href="#N"/></g><use href="#C0"/><use href="#A1"/><use href="#sr2"/><use href="#O3"/><use href="#sl4"/><use href="#A5"/><g transform="translate(0,84.2)"><use href="#O0"/><use href="#P1"/><use href="#bl2"/><use href="#C3"/><use href="#br4"/><use href="#P5"/></g><text class="t" x="209.4" y="-26.6">(52) 13469298</text></g>
<g id="p53" transform="translate(659,3237.6)"><g clip-path="url(#c)"><g><use href="#hRLRLRR"/><use href="#hLRLRLL" y="84.2"/><use href="#hRLRLRR" y="168.4"/><use href="#vDDUUDU"/><use href="#vUDUUDD" y="84.2"/></g><use href="#N"/></g><use href="#sl0"/><use href="#A1"/><use href="#sr2"/><use href="#O3"/><use href="#P4"/><use href="#C5"/><g transform="translate(0,84.2)"><use href="#O0"/><use href="#P1"/><use href="#bl2"/><use href="#C3"/><use href="#br4"/><use href="#A5"/></g><text class="t" x="209.4" y="-26.6">(53) 13476465</text></g>
<g id="p54" transform="translate(1265.7,3237.6)"><g clip-path="url(#c)"><g><use href="#hRLRRRL"/><use href="#hLRLLLR" y="84.2"/><use href="#hRLRRRL" y="168.4"/><use href="#vUDUUDD"/><use href="#vUDUDUD" y="84.2"/></g><use href="#N"/></g><use href="#C0"/><use href="#A1"/><use href="#sr2"/><use href="#C3"/><use href="#sl4"/><use href="#A5"/><g transform="translate(0,84.2)"><use href="#O0"/><use href="#P1"/><use href="#O2"/><use href="#A3"/><use href="#O4"/><use href="#P5"/></g><text class="t" x="209.4" y="-26.6">(54) 13551186</text></g>
<g id="p55" transform="translate(1872.4,3237.6)"><g clip-path="url(#c)"><g><use href="#hRLRRRR"/><use href="#hLRLLLL" y="84.2"/><use href="#hRLRRRR" y="168.4"/><use href="#vDDUUDU"/><use href="#vUDUDUD" y="84.2"/></g><use href="#N"/></g><use href="#sl0"/><use href="#A1"/><use href="#sr2"/><use href="#C3"/><use href="#P4"/><use href="#C5"/><g transform="translate(0,84.2)"><use href="#O0"/><use href="#P1"/><use href="#O2"/><use href="#A3"/><use href="#O4"/><use href="#A5"/></g><text class="t" x="209.4" y="-26.6">(55) 13558353</text></g>
<g id="p56" transform="translate(52.3,3482.8)"><g clip-path="url(#c)"><g><use href="#hRLLLRL"/><use href="#hLRRRLR" y="84.2"/><use href="#hRLLLRL" y="168.4"/><use href="#vUUDUDD"/><use href="#vUUUDDD" y="84.2"/></g><use href="#N"/></g><use href="#sr0"/><use href="#O1"/><use href="#A2"/><use href="#O3"/><use href="#sl4"/><use href="#A5"/><g transform="translate(0,84.2)"><use href="#bl0"/><use href="#sr1"/><use href="#C2"/><use href="#sl3"/><use href="#br4"/><use href="#P5"/></g><text class="t" x="209.4" y="-26.6">(56) 13928370</text></g>
<g id="p57" transform="translate(659,3482.8)"><g clip-path="url(#c)"><g><use href="#hRLLLRR"/><use href="#hLRRRLL" y="84.2"/><use href="#hRLLLRR" y="168.4"/><use href="#vDUDUDU"/><use href="#vUUUDDD" y="84.2"/></g><use href="#N"/></g><use href="#P0"/><use href="#O1"/><use href="#A2"/><use href="#O3"/><use href="#P4"/><use href="#C5"/><g transform="translate(0,84.2)"><use href="#bl0"/><use href="#sr1"/><use href="#C2"/><use href="#sl3"/><use href="#br4"/><use href="#A5"/></g><text class="t" x="209.4" y="-26.6">(57) 13935537</text></g>
<g id="p58" transform="translate(1265.7,3482.8)"><g clip-path="url(#c)"><g><use href="#hRLRLLL"/><use href="#hLRLRRR" y="84.2"/><use href="#hRLRLLL" y="168.4"/><use href="#vUUDDDU"/><use href="#vUUDDUD" y="84.2"/></g><use href="#N"/></g><use href="#sr0"/><use href="#O1"/><use href="#sl2"/><use href="#br3"/><use href="#A4"/><use href="#bl5"/><g transform="translate(0,84.2)"><use href="#bl0"/><use href="#C1"/><use href="#br2"/><use href="#P3"/><use href="#C4"/><use href="#P5"/></g><text class="t" x="209.4" y="-26.6">(58) 14173995</text></g>
<g id="p59" transform="translate(1872.4,3482.8)"><g clip-path="url(#c)"><g><use href="#hRLRLRL"/><use href="#hLRLRLR" y="84.2"/><use href="#hRLRLRL" y="168.4"/><use href="#vUUDDDU"/><use href="#vUUDDDU" y="84.2"/></g><use href="#N"/></g><use href="#sr0"/><use href="#O1"/><use href="#sl2"/><use href="#br3"/><use href="#P4"/><use href="#bl5"/><g transform="translate(0,84.2)"><use href="#bl0"/><use href="#C1"/><use href="#br2"/><use href="#sl3"/><use href="#A4"/><use href="#sr5"/></g><text class="t" x="209.4" y="-26.6">(59) 14194467</text></g>
<g id="p60" transform="translate(52.3,3728)"><g clip-path="url(#c)"><g><use href="#hRLRLRL"/><use href="#hLRLRLR" y="84.2"/><use href="#hRLRLRL" y="168.4"/><use href="#vUUDDUD"/><use href="#vUUDDUD" y="84.2"/></g><use href="#N"/></g><use href="#sr0"/><use href="#O1"/><use href="#sl2"/><use href="#A3"/><use href="#C4"/><use href="#A5"/><g transform="translate(0,84.2)"><use href="#bl0"/><use href="#C1"/><use href="#br2"/><use href="#P3"/><use href="#O4"/><use href="#P5"/></g><text class="t" x="209.4" y="-26.6">(60) 14206758</text></g>
<g id="p61" transform="translate(659,3728)"><g clip-path="url(#c)"><g><use href="#hRLRLRR"/><use href="#hLRLRLL" y="84.2"/><use href="#hRLRLRR" y="168.4"/><use href="#vDUDDUU"/><use href="#vUUDDUD" y="84.2"/></g><use href="#N"/></g><use href="#P0"/><use href="#O1"/><use href="#sl2"/><use href="#A3"/><use href="#sr4"/><use href="#C5"/><g transform="translate(0,84.2)"><use href="#bl0"/><use href="#C1"/><use href="#br2"/><use href="#P3"/><use href="#O4"/><use href="#A5"/></g><text class="t" x="209.4" y="-26.6">(61) 14213925</text></g>
<g id="p62" transform="translate(1265.7,3728)"><g clip-path="url(#c)"><g><use href="#hRLRLRL"/><use href="#hLRLRLR" y="84.2"/><use href="#hRLRLRL" y="168.4"/><use href="#vUUDUDD"/><use href="#vUUDUDD" y="84.2"/></g><use href="#N"/></g><use href="#sr0"/><use href="#O1"/><use href="#P2"/><use href="#O3"/><use href="#sl4"/><use href="#A5"/><g transform="translate(0,84.2)"><use href="#bl0"/><use href="#C1"/><use href="#A2"/><use href="#C3"/><use href="#br4"/><use href="#P5"/></g><text class="t" x="209.4" y="-26.6">(62) 14255922</text></g>
<g id="p63" transform="translate(1872.4,3728)"><g clip-path="url(#c)"><g><use href="#hRLRLRR"/><use href="#hLRLRLL" y="84.2"/><use href="#hRLRLRR" y="168.4"/><use href="#vDUDUDU"/><use href="#vUUDUDD" y="84.2"/></g><use href="#N"/></g><use href="#P0"/><use href="#O1"/><use href="#P2"/><use href="#O3"/><use href="#P4"/><use href="#C5"/><g transform="translate(0,84.2)"><use href="#bl0"/><use href="#C1"/><use href="#A2"/><use href="#C3"/><use href="#br4"/><use href="#A5"/></g><text class="t" x="209.4" y="-26.6">(63) 14263089</text></g>
<g id="p64" transform="translate(52.3,3973.2)"><g clip-path="url(#c)"><g><use href="#hRLRRRL"/><use href="#hLRLLLR" y="84.2"/><use href="#hRLRRRL" y="168.4"/><use href="#vUUDUDD"/><use href="#vUUDDUD" y="84.2"/></g><use href="#N"/></g><use href="#sr0"/><use href="#O1"/><use href="#P2"/><use href="#C3"/><use href="#sl4"/><use href="#A5"/><g transform="translate(0,84.2)"><use href="#bl0"/><use href="#C1"/><use href="#br2"/><use href="#A3"/><use href="#O4"/><use href="#P5"/></g><text class="t" x="209.4" y="-26.6">(64) 14337810</text></g>
<g id="p65" transform="translate(659,3973.2)"><g clip-path="url(#c)"><g><use href="#hRLRRRR"/><use href="#hLRLLLL" y="84.2"/><use href="#hRLRRRR" y="168.4"/><use href="#vDUDUDU"/><use href="#vUUDDUD" y="84.2"/></g><use href="#N"/></g><use href="#P0"/><use href="#O1"/><use href="#P2"/><use href="#C3"/><use href="#P4"/><use href="#C5"/><g transform="translate(0,84.2)"><use href="#bl0"/><use href="#C1"/><use href="#br2"/><use href="#A3"/><use href="#O4"/><use href="#A5"/></g><text class="t" x="209.4" y="-26.6">(65) 14344977</text></g>
<g id="p66" transform="translate(1265.7,3973.2)"><g clip-path="url(#c)"><g><use href="#hRLRLRL"/><use href="#hLRLRLR" y="84.2"/><use href="#hRLRLRL" y="168.4"/><use href="#vUUUDDD"/><use href="#vUUUDDD" y="84.2"/></g><use href="#N"/></g><use href="#sr0"/><use href="#bl1"/><use href="#C2"/><use href="#br3"/><use href="#sl4"/><use href="#A5"/><g transform="translate(0,84.2)"><use href="#bl0"/><use href="#sr1"/><use href="#O2"/><use href="#sl3"/><use href="#br4"/><use href="#P5"/></g><text class="t" x="209.4" y="-26.6">(66) 14452578</text></g>
<g id="p67" transform="translate(1872.4,3973.2)"><g clip-path="url(#c)"><g><use href="#hRLRLRR"/><use href="#hLRLRLL" y="84.2"/><use href="#hRLRLRR" y="168.4"/><use href="#vDUUDDU"/><use href="#vUUUDDD" y="84.2"/></g><use href="#N"/></g><use href="#P0"/><use href="#bl1"/><use href="#C2"/><use href="#br3"/><use href="#P4"/><use href="#C5"/><g transform="translate(0,84.2)"><use href="#bl0"/><use href="#sr1"/><use href="#O2"/><use href="#sl3"/><use href="#br4"/><use href="#A5"/></g><text class="t" x="209.4" y="-26.6">(67) 14459745</text></g>
<g id="p68" transform="translate(52.3,4218.4)"><g clip-path="url(#c)"><g><use href="#hRRRLLL"/><use href="#hLLLRRR" y="84.2"/><use href="#hRRRLLL" y="168.4"/><use href="#vUUDDDU"/><use href="#vUDUDUD" y="84.2"/></g><use href="#N"/></g><use href="#sr0"/><use href="#C1"/><use href="#sl2"/><use href="#br3"/><use href="#A4"/><use href="#bl5"/><g transform="translate(0,84.2)"><use href="#O0"/><use href="#A1"/><use href="#O2"/><use href="#P3"/><use href="#C4"/><use href="#P5"/></g><text class="t" x="209.4" y="-26.6">(68) 15484203</text></g>
<g id="p69" transform="translate(659,4218.4)"><g clip-path="url(#c)"><g><use href="#hRRRLRL"/><use href="#hLLLRLR" y="84.2"/><use href="#hRRRLRL" y="168.4"/><use href="#vUUDDDU"/><use href="#vUDUDDU" y="84.2"/></g><use href="#N"/></g><use href="#sr0"/><use href="#C1"/><use href="#sl2"/><use href="#br3"/><use href="#P4"/><use href="#bl5"/><g transform="translate(0,84.2)"><use href="#O0"/><use href="#A1"/><use href="#O2"/><use href="#sl3"/><use href="#A4"/><use href="#sr5"/></g><text class="t" x="209.4" y="-26.6">(69) 15504675</text></g>
<g id="p70" transform="translate(1265.7,4218.4)"><g clip-path="url(#c)"><g><use href="#hRRRLRL"/><use href="#hLLLRLR" y="84.2"/><use href="#hRRRLRL" y="168.4"/><use href="#vUUDDUD"/><use href="#vUDUDUD" y="84.2"/></g><use href="#N"/></g><use href="#sr0"/><use href="#C1"/><use href="#sl2"/><use href="#A3"/><use href="#C4"/><use href="#A5"/><g transform="translate(0,84.2)"><use href="#O0"/><use href="#A1"/><use href="#O2"/><use href="#P3"/><use href="#O4"/><use href="#P5"/></g><text class="t" x="209.4" y="-26.6">(70) 15516966</text></g>
<g id="p71" transform="translate(1872.4,4218.4)"><g clip-path="url(#c)"><g><use href="#hRRRLRR"/><use href="#hLLLRLL" y="84.2"/><use href="#hRRRLRR" y="168.4"/><use href="#vDUDDUU"/><use href="#vUDUDUD" y="84.2"/></g><use href="#N"/></g><use href="#P0"/><use href="#C1"/><use href="#sl2"/><use href="#A3"/><use href="#sr4"/><use href="#C5"/><g transform="translate(0,84.2)"><use href="#O0"/><use href="#A1"/><use href="#O2"/><use href="#P3"/><use href="#O4"/><use href="#A5"/></g><text class="t" x="209.4" y="-26.6">(71) 15524133</text></g>
<g id="p72" transform="translate(52.3,4463.6)"><g clip-path="url(#c)"><g><use href="#hRRRLRL"/><use href="#hLLLRLR" y="84.2"/><use href="#hRRRLRL" y="168.4"/><use href="#vUUDUDD"/><use href="#vUDUUDD" y="84.2"/></g><use href="#N"/></g><use href="#sr0"/><use href="#C1"/><use href="#P2"/><use href="#O3"/><use href="#sl4"/><use href="#A5"/><g transform="translate(0,84.2)"><use href="#O0"/><use href="#A1"/><use href="#bl2"/><use href="#C3"/><use href="#br4"/><use href="#P5"/></g><text class="t" x="209.4" y="-26.6">(72) 15566130</text></g>
<g id="p73" transform="translate(659,4463.6)"><g clip-path="url(#c)"><g><use href="#hRRRLRR"/><use href="#hLLLRLL" y="84.2"/><use href="#hRRRLRR" y="168.4"/><use href="#vDUDUDU"/><use href="#vUDUUDD" y="84.2"/></g><use href="#N"/></g><use href="#P0"/><use href="#C1"/><use href="#P2"/><use href="#O3"/><use href="#P4"/><use href="#C5"/><g transform="translate(0,84.2)"><use href="#O0"/><use href="#A1"/><use href="#bl2"/><use href="#C3"/><use href="#br4"/><use href="#A5"/></g><text class="t" x="209.4" y="-26.6">(73) 15573297</text></g>
<g id="p74" transform="translate(1265.7,4463.6)"><g clip-path="url(#c)"><g><use href="#hRRRRRL"/><use href="#hLLLLLR" y="84.2"/><use href="#hRRRRRL" y="168.4"/><use href="#vUUDUDD"/><use href="#vUDUDUD" y="84.2"/></g><use href="#N"/></g><use href="#sr0"/><use href="#C1"/><use href="#P2"/><use href="#C3"/><use href="#sl4"/><use href="#A5"/><g transform="translate(0,84.2)"><use href="#O0"/><use href="#A1"/><use href="#O2"/><use href="#A3"/><use href="#O4"/><use href="#P5"/></g><text class="t" x="209.4" y="-26.6">(74) 15648018</text></g>
<g id="p75" transform="translate(1872.4,4463.6)"><g clip-path="url(#c)"><g><use href="#hRRRRRR"/><use href="#hLLLLLL" y="84.2"/><use href="#hRRRRRR" y="168.4"/><use href="#vDUDUDU"/><use href="#vUDUDUD" y="84.2"/></g><use href="#N"/></g><use href="#P0"/><use href="#C1"/><use href="#P2"/><use href="#C3"/><use href="#P4"/><use href="#C5"/><g transform="translate(0,84.2)"><use href="#O0"/><use href="#A1"/><use href="#O2"/><use href="#A3"/><use href="#O4"/><use href="#A5"/></g><text class="t" x="209.4" y="-26.6">(75) 15655185</text></g>
</g>
</svg>
